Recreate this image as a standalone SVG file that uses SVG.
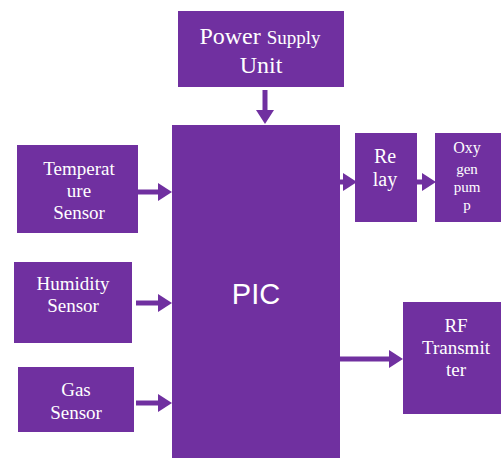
<svg xmlns="http://www.w3.org/2000/svg" width="501" height="458" viewBox="0 0 501 458">
<defs>
<style>
.box{fill:#7030A0;}
.t{fill:#ffffff;text-anchor:middle;}
.c{stroke:#7030A0;stroke-width:5;fill:none;}
</style>
<marker id="ah" markerUnits="userSpaceOnUse" markerWidth="14" markerHeight="18" refX="0" refY="9" orient="auto">
<path d="M0,0 L14,9 L0,18 Z" fill="#7030A0"/>
</marker>
</defs>
<rect width="501" height="458" fill="#ffffff"/>
<g font-family="Liberation Serif, Times New Roman, serif">
<g id="power">
<rect class="box" x="178" y="11" width="166" height="76"/>
<text class="t" x="260" y="44" font-size="24">Power <tspan font-size="19">Supply</tspan></text>
<text class="t" x="261" y="73" font-size="24">Unit</text>
</g>
<g id="pic">
<rect class="box" x="172" y="125" width="168" height="333"/>
<text x="256" y="304" font-size="29" fill="#ffffff" font-family="Liberation Sans, Arial, sans-serif" text-anchor="middle">PIC</text>
</g>
<g id="temp">
<rect class="box" x="17" y="145" width="121" height="88"/>
<text class="t" x="79" y="175" font-size="19">Temperat</text>
<text class="t" x="79" y="197" font-size="19">ure</text>
<text class="t" x="79" y="219" font-size="19">Sensor</text>
</g>
<g id="humidity">
<rect class="box" x="14" y="262" width="118" height="81"/>
<text class="t" x="73" y="290" font-size="19">Humidity</text>
<text class="t" x="73" y="312" font-size="19">Sensor</text>
</g>
<g id="gas">
<rect class="box" x="18" y="367" width="116" height="65"/>
<text class="t" x="76" y="396" font-size="19">Gas</text>
<text class="t" x="76" y="419" font-size="19">Sensor</text>
</g>
<g id="relay">
<rect class="box" x="355" y="133" width="62" height="89"/>
<text class="t" x="385" y="163" font-size="20">Re</text>
<text class="t" x="385" y="186" font-size="20">lay</text>
</g>
<g id="oxygen">
<rect class="box" x="435" y="133" width="66" height="89"/>
<text class="t" x="467" y="153" font-size="16">Oxy</text>
<text class="t" x="467" y="174" font-size="15">gen</text>
<text class="t" x="467" y="192" font-size="15">pum</text>
<text class="t" x="467" y="210" font-size="15">p</text>
</g>
<g id="rf">
<rect class="box" x="403" y="302" width="98" height="112"/>
<text class="t" x="456" y="332" font-size="19">RF</text>
<text class="t" x="456" y="354" font-size="19">Transmit</text>
<text class="t" x="456" y="376" font-size="19">ter</text>
</g>
</g>
<g id="connectors">
<line class="c" x1="265" y1="90" x2="265" y2="110" marker-end="url(#ah)"/>
<line class="c" x1="138" y1="192" x2="158" y2="192" marker-end="url(#ah)"/>
<line class="c" x1="136" y1="303" x2="158" y2="303" marker-end="url(#ah)"/>
<line class="c" x1="136" y1="403" x2="158" y2="403" marker-end="url(#ah)"/>
<line class="c" x1="340" y1="182" x2="343" y2="182" marker-end="url(#ah)"/>
<line class="c" x1="417" y1="182" x2="422" y2="182" marker-end="url(#ah)"/>
<line class="c" x1="340" y1="359" x2="389" y2="359" marker-end="url(#ah)"/>
</g>
</svg>
